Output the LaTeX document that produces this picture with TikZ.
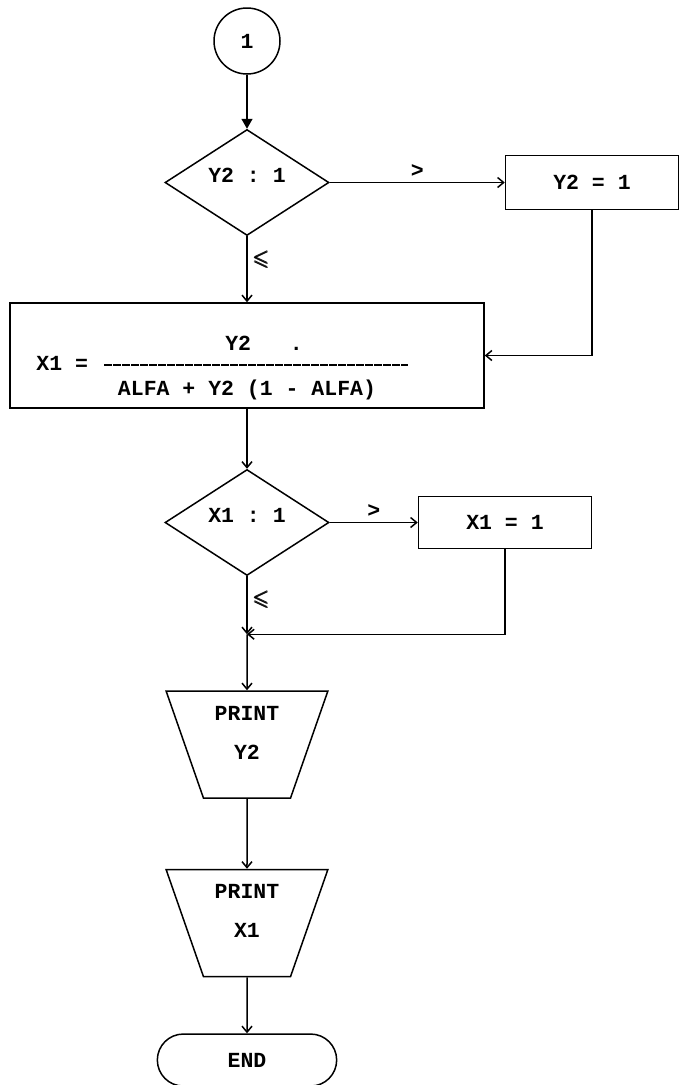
\documentclass[tikz,border=0pt]{standalone}
\usepackage{fontspec}
\usepackage{amsmath,amssymb}
\setmonofont{Liberation Mono}
\usetikzlibrary{arrows.meta,positioning,shapes.geometric,shapes.misc}

\begin{document}
\begin{tikzpicture}[
        x=1pt, y=1pt,
        node distance=55pt,
        >={Straight Barb[length=6pt,width=10pt]},
        every node/.style={font=\fontsize{21.5}{26}\selectfont\ttfamily\bfseries},
        connector/.style={
            circle, draw,
            line width=1.5pt,
            minimum size=66pt,
            inner sep=0pt
        },
        decide/.style={
            diamond, draw,
            line width=1.5pt,
            minimum width=164pt,
            minimum height=106pt,
            inner sep=1pt
        },
        assign/.style={
            rectangle, draw,
            line width=1.5pt,
            minimum width=173pt,
            minimum height=54pt
        },
        calcbox/.style={
            rectangle, draw,
            line width=1.5pt,
            minimum width=474pt,
            minimum height=105pt
        },
        printbox/.style={
            trapezium, draw,
            line width=1.5pt,
            shape border rotate=180,
            trapezium angle=70,
            trapezium stretches=true,
            minimum width=162pt,
            minimum height=107pt,
            align=center,
            font=\fontsize{21.5}{39}\selectfont\ttfamily\bfseries
        },
        stopbox/.style={
            rounded rectangle, draw,
            line width=1.5pt,
            minimum width=186pt,
            minimum height=52pt
        },
        txt/.style={inner sep=0pt},
        arrow/.style={->, line width=1.5pt},
        fracbar/.style={line width=2pt, dash pattern=on 8pt off 1pt}
    ]
        \useasboundingbox (0,0) rectangle (680,-1085);

        \node[connector] (start) at (247,-41) {1};
        \node[decide, below=54pt of start] (dec1) {\raisebox{0pt}[0pt][0pt]{Y2 : 1}};
        \node[assign, right=175pt of dec1] (set1) {Y2 = 1};
        \node[calcbox, below=66pt of dec1] (calc) {};
        \node[txt, anchor=west] (lhs) at ([xshift=27pt,yshift=-7.5pt]calc.west) {X1 =};
        \node[txt] (num) at ([xshift=17pt,yshift=12.5pt]calc.center) {Y2\ \ \ .};
        \node[txt] (den) at ([yshift=-34.5pt]calc.center) {ALFA + Y2 (1 - ALFA)};
        \node[decide, below=60pt of calc] (dec2) {\raisebox{0pt}[0pt][0pt]{X1 : 1}};
        \node[assign, minimum height=52pt, right=88pt of dec2] (set2) {X1 = 1};
        \coordinate[below=58pt of dec2] (merge);
        \node[printbox, below=114pt of dec2] (prt1) {PRINT\\Y2\\[-15pt]\mbox{}};
        \node[printbox, below=70pt of prt1] (prt2) {PRINT\\X1\\[-15pt]\mbox{}};
        \node[stopbox, below=56pt of prt2] (stop) {END};

        \draw[fracbar] ([xshift=95pt,yshift=-9.5pt]calc.west) -- ([xshift=-77pt,yshift=-9.5pt]calc.east);

        \draw[-{Triangle[length=10pt,width=11pt]}, line width=1.5pt] (start) -- (dec1);
        \draw[arrow] (dec1) -- node[above=1pt] {>} (set1);
        \draw[arrow] (dec1) -- node[pos=0.35, right=2pt] {$\pmb{\leqslant}$} (calc);
        \draw[arrow] (set1) |- (calc);
        \draw[arrow] (calc) -- (dec2);
        \draw[arrow] (dec2) -- node[above=1pt] {>} (set2);
        \draw[arrow] (dec2) -- node[pos=0.4, right=2pt] {$\pmb{\leqslant}$} (merge);
        \draw[arrow] (set2) |- (merge);
        \draw[arrow] (merge) -- (prt1);
        \draw[arrow] (prt1) -- (prt2);
        \draw[arrow] (prt2) -- (stop);
    \end{tikzpicture}
\end{document}
